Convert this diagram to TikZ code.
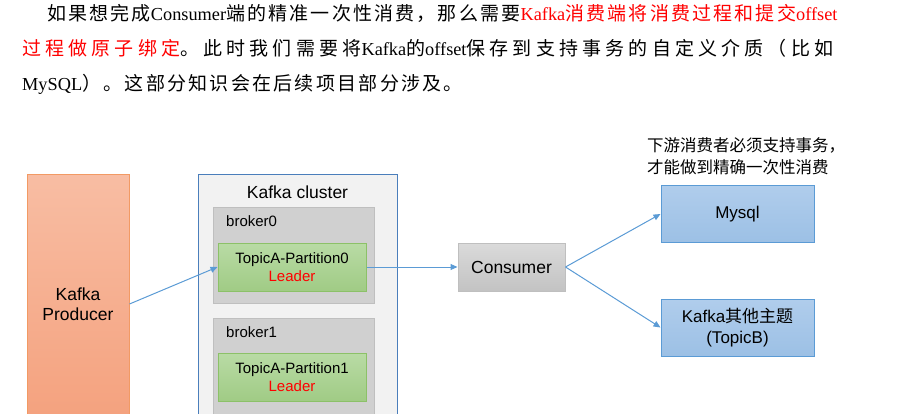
\documentclass[tikz,border=0pt]{standalone}
\usepackage{fontspec}
\setmainfont{Liberation Sans}
\newfontfamily\cjk{Noto Sans CJK SC}
\newfontfamily\tnr{Liberation Serif}
\usetikzlibrary{arrows.meta,positioning}

\definecolor{prodtop}{HTML}{F8BDA3}
\definecolor{prodbot}{HTML}{F4A07C}
\definecolor{prodline}{HTML}{F29A64}
\definecolor{clusterfill}{HTML}{F2F2F2}
\definecolor{clusterline}{HTML}{4A7EBB}
\definecolor{brokerfill}{HTML}{D0D0D0}
\definecolor{brokerline}{HTML}{BFBFBF}
\definecolor{parttop}{HTML}{B9DBA5}
\definecolor{partbot}{HTML}{A0CB85}
\definecolor{partline}{HTML}{8CC168}
\definecolor{constop}{HTML}{DADADA}
\definecolor{consbot}{HTML}{C3C3C3}
\definecolor{bluetop}{HTML}{B0CDEC}
\definecolor{bluebot}{HTML}{9CC0E5}
\definecolor{blueline}{HTML}{5B9BD5}
\definecolor{leadred}{HTML}{FF0000}

\newcommand\lat[1]{{\tnr\fontsize{18.3}{22}\selectfont #1}}
\newcommand\zh[1]{{\cjk #1}}

\tikzset{
  para/.style={anchor=base west,inner sep=0pt,font=\fontsize{19}{22}\selectfont\cjk},
  lbl/.style={font=\fontsize{17.5}{19.5}\selectfont},
  small/.style={font=\fontsize{15}{18}\selectfont},
  prodbox/.style={draw=prodline,line width=1pt,top color=prodtop,bottom color=prodbot,
    minimum width=102pt,minimum height=258pt,inner sep=0pt,align=center,lbl},
  clusterbox/.style={draw=clusterline,line width=1pt,fill=clusterfill,inner sep=0pt,
    minimum width=199pt,minimum height=255pt},
  brokerbox/.style={draw=brokerline,line width=1pt,fill=brokerfill,inner sep=0pt,minimum width=161pt},
  partbox/.style={draw=partline,line width=1pt,top color=parttop,bottom color=partbot,
    minimum width=148pt,minimum height=48pt,inner sep=0pt,align=center,small},
  consbox/.style={draw=brokerline,line width=1pt,top color=constop,bottom color=consbot,
    minimum width=107pt,minimum height=48pt,inner sep=0pt,lbl},
  bluebox/.style={draw=blueline,line width=1pt,top color=bluetop,bottom color=bluebot,
    minimum width=153pt,minimum height=57pt,inner sep=0pt,align=center,lbl,
    font=\fontsize{17}{21}\selectfont},
  arr/.style={-{Triangle[length=7pt,width=6pt]},draw=blueline,line width=1pt}
}

\begin{document}
\begin{tikzpicture}[x=1pt,y=-1pt]
  \useasboundingbox (0,0) rectangle (902,414);
  \clip (0,0) rectangle (902,414);
  % text above the figure
  \node[para] (l1) at (47,21) {\addfontfeature{LetterSpace=11.5}如果想完成\lat{Consumer}端的精准一次性消费，那么需要\textcolor{leadred}{\lat{Kafka}消费端将消费过程和提交\lat{offset}}};
  \node[para] (l2) at (22,56) {\addfontfeature{LetterSpace=22}\textcolor{leadred}{过程做原子绑定}。此时我们需要将\lat{Kafka}的\lat{offset}保存到支持事务的自定义介质（比如};
  \node[para] (l3) at (22,91) {\addfontfeature{LetterSpace=12}\lat{MySQL}）。这部分知识会在后续项目部分涉及。};
  % producer and cluster
  \node[prodbox] (prod) at (78,304) {Kafka\\Producer};
  \node[clusterbox] (cluster) at (297.5,302.5) {};
  \node[lbl] (clbl) at (297.5,192) {Kafka cluster};
  \node[brokerbox,minimum height=95pt] (b0) at (293.5,255.5) {};
  \node[small,anchor=west,inner sep=0pt] (b0lbl) at (226,221) {broker0};
  \node[partbox] (p0) at (292,267) {TopicA-Partition0\\\textcolor{leadred}{Leader}};
  \node[brokerbox,minimum height=112pt] (b1) at (293.5,374) {};
  \node[small,anchor=west,inner sep=0pt] (b1lbl) at (226,332) {broker1};
  \node[partbox] (p1) at (292,377) {TopicA-Partition1\\\textcolor{leadred}{Leader}};
  % consumer and downstream
  \node[consbox] (cons) at (511.5,267) {Consumer};
  \node[bluebox] (mysql) at (737.5,214) {Mysql};
  \node[bluebox] (topicb) at (737.5,327.5) {Kafka\zh{其他主题}\\(TopicB)};
  \node[anchor=west,align=left,inner sep=0pt,font=\fontsize{16.5}{22}\selectfont\cjk] (note) at (647,156) {下游消费者必须支持事务，\\才能做到精确一次性消费};
  \draw[arr] (prod.east) -- (p0.west);
  \draw[arr] (p0.east) -- (cons.west);
  \draw[arr] (cons.east) -- (mysql.west);
  \draw[arr] (cons.east) -- (topicb.west);
\end{tikzpicture}
\end{document}
